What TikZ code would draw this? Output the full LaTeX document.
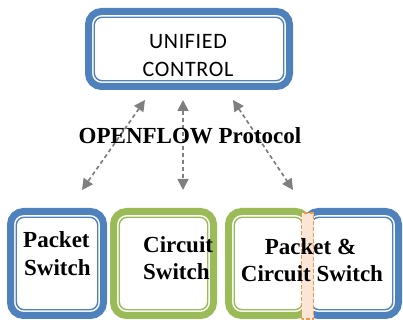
\documentclass[tikz,border=0pt]{standalone}
\usepackage{fontspec}
\setmainfont{Liberation Serif}
\newfontfamily\calfont{Carlito}[LetterSpace=3]
\usetikzlibrary{arrows.meta,calc}
\definecolor{oblue}{HTML}{4F81BD}
\definecolor{ogreen}{HTML}{9BBB59}
\definecolor{oorange}{HTML}{F79646}
\definecolor{opeach}{HTML}{FBE5D6}
\definecolor{ogray}{HTML}{7F7F7F}
\tikzset{
  framebox/.style={draw=#1, line width=7pt, rounded corners=13pt, outer sep=0pt, inner sep=0pt, fill=white},
  innerline/.style={draw=#1, line width=1.4pt, rounded corners=8pt},
  arr/.style={draw=ogray, line width=1.7pt, dash pattern=on 4pt off 3pt, {Triangle[length=11pt,width=11pt]}-{Triangle[length=11pt,width=11pt]}},
  serif/.style={font=\bfseries\fontsize{23}{28}\selectfont, inner sep=0pt},
  sans/.style={font=\calfont\fontsize{22}{28}\selectfont, inner sep=0pt},
}
\newcommand\innerframe[2]{\draw[innerline=#2] ($(#1.south west)+(5.75pt,5.75pt)$) rectangle ($(#1.north east)-(5.75pt,5.75pt)$);}
\begin{document}
\begin{tikzpicture}[x=1pt,y=1pt]
\useasboundingbox (0,0) rectangle (403,320);
% top box
\node[framebox=oblue, minimum width=201pt, minimum height=75pt] (top) at (189,271) {};
\innerframe{top}{oblue}
\node[sans, anchor=base] (t1) at (188,271) {UNIFIED};
\node[sans, anchor=base] (t2) at (188,243) {CONTROL};
% arrows
\coordinate (l1) at (145,220);
\coordinate (l2) at (82,130);
\coordinate (m1) at (183,220);
\coordinate (m2) at (183,130);
\coordinate (r1) at (233,220);
\coordinate (r2) at (293,130);
\draw[arr] (l1) -- (l2);
\draw[arr] (m1) -- (m2);
\draw[arr] (r1) -- (r2);
\node[serif, anchor=base] (proto) at (190,176) {OPENFLOW Protocol};
% bottom boxes
\node[framebox=oblue, minimum width=93pt, minimum height=104pt] (ps) at (57,56.5) {};
\innerframe{ps}{oblue}
\node[framebox=ogreen, minimum width=100pt, minimum height=104pt] (cs) at (163.5,56.5) {};
\innerframe{cs}{ogreen}
\node[framebox=oblue, minimum width=93pt, minimum height=104pt] (pcb) at (352,56.5) {};
\innerframe{pcb}{oblue}
\node[framebox=ogreen, minimum width=80pt, minimum height=104pt] (pcg) at (268.5,56.5) {};
\innerframe{pcg}{ogreen}
\path[fill=opeach, draw=oorange, line width=1.2pt, dash pattern=on 4pt off 2pt] (301.5,1) rectangle (313.5,107);
\node[coordinate] (strip) at (307.5,54) {};
% texts
\node[serif, anchor=base west] (p1) at (23,72) {Packet};
\node[serif, anchor=base west] (p2) at (24,44) {Switch};
\node[serif, anchor=base west] (c1) at (143,67) {Circuit};
\node[serif, anchor=base west] (c2) at (143,40) {Switch};
\node[serif, anchor=base] (pc1) at (310.5,65) {Packet \&};
\node[serif, anchor=base] (pc2) at (312,38) {Circuit Switch};
\end{tikzpicture}
\end{document}
